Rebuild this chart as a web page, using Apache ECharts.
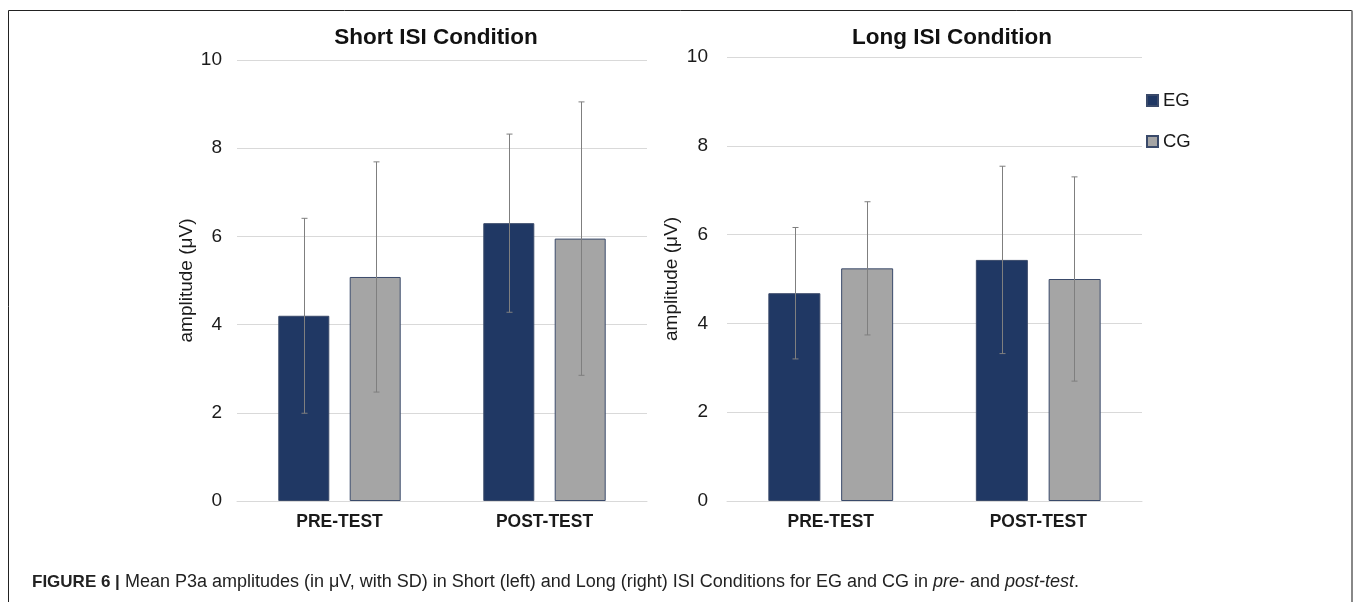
<!DOCTYPE html>
<html>
<head>
<meta charset="utf-8">
<script src="https://cdn.jsdelivr.net/npm/echarts@6/dist/echarts.min.js"></script>
<style>
html,body{margin:0;padding:0;background:#fff;}
#chart{width:1354px;height:602px;}
</style>
</head>
<body>
<div id="chart"></div>
<script>
// ---- data ----
const categories = ['PRE-TEST', 'POST-TEST'];
const yTicks = [0, 2, 4, 6, 8, 10];
const shortEG = [4.20, 6.30];
const shortEGsd = [2.21, 2.02];
const shortCG = [5.08, 5.95];
const shortCGsd = [2.61, 3.10];
const longEG = [4.68, 5.43];
const longEGsd = [1.48, 2.11];
const longCG = [5.24, 5.00];
const longCGsd = [1.50, 2.30];
const seriesNames = ['EG', 'CG'];
const panelTitles = ['Short ISI Condition', 'Long ISI Condition'];
const yAxisName = 'amplitude (\u03bcV)';

const EG_COLOR = '#203864';
const CG_COLOR = '#A5A5A5';
const BORDER = '#3A4A6A';
const ERR = '#7F7F7F';
const FONT = '"Liberation Sans", Arial, sans-serif';

function errSeries(name, xi, yi, means, sds, offset) {
  return {
    type: 'custom',
    name: name + '-err',
    xAxisIndex: xi,
    yAxisIndex: yi,
    z: 10,
    silent: true,
    data: means.map((m, i) => [i, m, sds[i]]),
    renderItem: function (params, api) {
      const c = api.value(0), m = api.value(1), s = api.value(2);
      const top = api.coord([c, m + s]);
      const bot = api.coord([c, m - s]);
      const x = Math.round(top[0] + offset) + 0.5;
      const style = { stroke: ERR, lineWidth: 1 };
      return {
        type: 'group',
        children: [
          { type: 'line', shape: { x1: x, y1: top[1], x2: x, y2: bot[1] }, style: style },
          { type: 'line', shape: { x1: x - 3, y1: top[1], x2: x + 3, y2: top[1] }, style: style },
          { type: 'line', shape: { x1: x - 3, y1: bot[1], x2: x + 3, y2: bot[1] }, style: style }
        ]
      };
    }
  };
}

function barSeries(name, xi, yi, data, color, width) {
  return {
    type: 'bar',
    name: name,
    xAxisIndex: xi,
    yAxisIndex: yi,
    data: data,
    barWidth: width,
    barGap: '40%',
    itemStyle: { color: color, borderColor: BORDER, borderWidth: 1 },
    emphasis: { disabled: true }
  };
}

const yAxisCommon = {
  type: 'value',
  min: yTicks[0],
  max: yTicks[yTicks.length - 1],
  interval: 2,
  name: yAxisName,
  nameLocation: 'middle',
  nameRotate: 90,
  nameTextStyle: { fontSize: 19, color: '#1a1a1a', fontFamily: FONT },
  axisLine: { show: false },
  axisTick: { show: false },
  splitLine: { lineStyle: { color: '#D9D9D9', width: 1 } },
  axisLabel: { fontSize: 19, color: '#1a1a1a', fontFamily: FONT }
};

const xAxisCommon = {
  type: 'category',
  data: categories,
  axisLine: { lineStyle: { color: '#D9D9D9' } },
  axisTick: { show: false },
  axisLabel: { fontSize: 17.5, fontWeight: 'bold', color: '#1a1a1a', fontFamily: FONT, margin: 12 }
};

const option = {
  animation: false,
  backgroundColor: '#ffffff',
  title: [
    { text: panelTitles[0], left: 436, top: 26, padding: 0, textAlign: 'center',
      textStyle: { fontSize: 22.5, fontWeight: 'bold', color: '#111', fontFamily: FONT } },
    { text: panelTitles[1], left: 952, top: 26, padding: 0, textAlign: 'center',
      textStyle: { fontSize: 22.5, fontWeight: 'bold', color: '#111', fontFamily: FONT } }
  ],
  legend: {
    data: seriesNames,
    orient: 'vertical',
    left: 1141,
    top: 86,
    itemWidth: 11,
    itemHeight: 11,
    itemGap: 22,
    icon: 'rect',
    selectedMode: false,
    textStyle: { fontSize: 18.5, color: '#1a1a1a', fontFamily: FONT }
  },
  grid: [
    { left: 237, right: 1354 - 647, top: 60, bottom: 101 },
    { left: 727, right: 1354 - 1142, top: 57, bottom: 101 }
  ],
  xAxis: [
    Object.assign({ gridIndex: 0 }, xAxisCommon),
    Object.assign({ gridIndex: 1 }, xAxisCommon)
  ],
  yAxis: [
    Object.assign({ gridIndex: 0 }, yAxisCommon, { nameGap: 41, axisLabel: Object.assign({}, yAxisCommon.axisLabel, { margin: 15 }) }),
    Object.assign({ gridIndex: 1 }, yAxisCommon, { nameGap: 46, axisLabel: Object.assign({}, yAxisCommon.axisLabel, { margin: 19 }) })
  ],
  series: [
    barSeries(seriesNames[0], 0, 0, shortEG, EG_COLOR, 51),
    barSeries(seriesNames[1], 0, 0, shortCG, CG_COLOR, 51),
    barSeries(seriesNames[0], 1, 1, longEG, EG_COLOR, 52),
    barSeries(seriesNames[1], 1, 1, longCG, CG_COLOR, 52),
    errSeries('sEG', 0, 0, shortEG, shortEGsd, -36),
    errSeries('sCG', 0, 0, shortCG, shortCGsd, 36),
    errSeries('lEG', 1, 1, longEG, longEGsd, -36),
    errSeries('lCG', 1, 1, longCG, longCGsd, 36)
  ],
  graphic: [
    { type: 'line', shape: { x1: 8.5, y1: 10.5, x2: 1352, y2: 10.5 }, style: { stroke: '#222', lineWidth: 1 } },
    { type: 'line', shape: { x1: 8.5, y1: 10.5, x2: 8.5, y2: 602 }, style: { stroke: '#222', lineWidth: 1 } },
    { type: 'line', shape: { x1: 1352, y1: 10.5, x2: 1352, y2: 602 }, style: { stroke: '#888', lineWidth: 2 } },
    {
      type: 'text',
      left: 32,
      top: 573,
      style: {
        text: '{b|FIGURE 6 |} Mean P3a amplitudes (in \u03bcV, with SD) in Short (left) and Long (right) ISI Conditions for EG and CG in {i|pre}- and {i|post-test}.',
        fontSize: 18,
        fontFamily: FONT,
        fill: '#222',
        rich: {
          b: { fontWeight: 'bold', fontSize: 17, fontFamily: FONT, fill: '#222' },
          i: { fontStyle: 'italic', fontSize: 18, fontFamily: FONT, fill: '#222' }
        }
      }
    }
  ]
};

const chart = echarts.init(document.getElementById('chart'), null, { renderer: 'canvas' });
chart.setOption(option);
</script>
</body>
</html>
